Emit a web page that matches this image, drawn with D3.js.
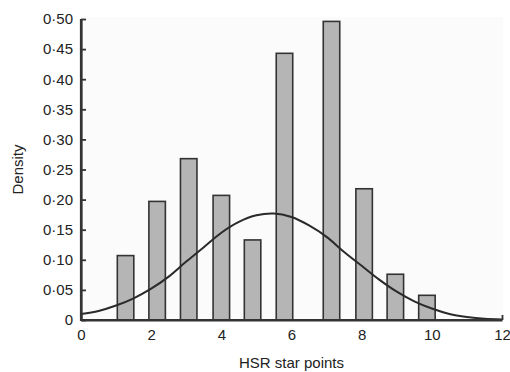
<!DOCTYPE html>
<html>
<head>
<meta charset="utf-8">
<script src="https://cdn.jsdelivr.net/npm/d3@7"></script>
<style>
  body { margin: 0; background: #fff; }
  text { font-family: "Liberation Sans", Arial, Helvetica, sans-serif; fill: #222; }
</style>
</head>
<body>
<div id="chart"></div>
<script>
const WIDTH = 510;
const HEIGHT = 372;

// bar centres (star points) and densities
const barX = [1.27, 2.17, 3.07, 4.0, 4.89, 5.8, 7.14, 8.07, 8.96, 9.86];
const barDensity = [0.107, 0.197, 0.268, 0.207, 0.133, 0.443, 0.496, 0.218, 0.076, 0.041];

// fitted density curve, sampled from the figure
const curveX = [0, 0.5, 1, 1.5, 2, 2.5, 3, 3.5, 4, 4.5, 5, 5.5, 6, 6.5, 7, 7.5, 8, 8.5, 9, 9.5, 10, 10.5, 11, 11.5, 12];
const curveY = [0.010, 0.015, 0.024, 0.036, 0.052, 0.072, 0.097, 0.121, 0.145, 0.163, 0.174, 0.177, 0.171, 0.157, 0.138, 0.113, 0.090, 0.067, 0.047, 0.031, 0.019, 0.010, 0.005, 0.002, 0.001];

const xTicks = [0, 2, 4, 6, 8, 10, 12];
const yTicks = [0, 0.05, 0.10, 0.15, 0.20, 0.25, 0.30, 0.35, 0.40, 0.45, 0.50];

const LEFT = 81, RIGHT = 502, TOP = 19, BOTTOM = 320;
const BAR_W = 0.47;

const svg = d3.select("#chart").append("svg")
    .attr("width", WIDTH)
    .attr("height", HEIGHT);

const x = d3.scaleLinear().domain([0, 12]).range([LEFT, RIGHT]);
const y = d3.scaleLinear().domain([0, 0.5]).range([BOTTOM, TOP]);

// faint plot background
svg.append("rect")
    .attr("x", LEFT)
    .attr("y", TOP - 2)
    .attr("width", RIGHT - LEFT + 1)
    .attr("height", BOTTOM - TOP + 2)
    .attr("fill", "#fbfbfb");

const yFmt = d => d === 0 ? "0" : d3.format(".2f")(d).replace(".", "\u00b7");

// X axis (ticks point inward, hidden behind bars)
const xAxis = svg.append("g")
    .attr("transform", "translate(0," + BOTTOM + ")")
    .call(d3.axisBottom(x).tickValues(xTicks).tickSize(-5).tickSizeOuter(0).tickPadding(9));

// Y axis
const yAxis = svg.append("g")
    .attr("transform", "translate(" + LEFT + ",0)")
    .call(d3.axisLeft(y).tickValues(yTicks).tickFormat(yFmt).tickSize(-5).tickSizeOuter(0).tickPadding(8));

[xAxis, yAxis].forEach(g => {
  g.selectAll("text").style("font-size", "15px").attr("fill", "#222")
   .style("font-family", "'Liberation Sans', Arial, sans-serif");
  g.selectAll("line").attr("stroke", "#333").attr("stroke-width", 1.8);
  g.select(".domain").attr("stroke", "#333").attr("stroke-width", 2.2);
});

// bars
const bw = x(BAR_W) - x(0);
svg.append("g")
  .selectAll("rect")
  .data(barX.map((v, i) => ({ x: v, d: barDensity[i] })))
  .join("rect")
    .attr("x", d => x(d.x) - bw / 2)
    .attr("y", d => y(d.d))
    .attr("width", bw)
    .attr("height", d => y(0) - y(d.d))
    .attr("fill", "#b5b5b5")
    .attr("stroke", "#333")
    .attr("stroke-width", 1.6);

// fitted curve
const line = d3.line()
    .x(d => x(d[0]))
    .y(d => y(d[1]))
    .curve(d3.curveCatmullRom);

svg.append("path")
    .datum(curveX.map((v, i) => [v, curveY[i]]))
    .attr("d", line)
    .attr("fill", "none")
    .attr("stroke", "#2a2a2a")
    .attr("stroke-width", 2);

// redraw axis lines on top
svg.append("line")
    .attr("x1", LEFT).attr("x2", RIGHT)
    .attr("y1", BOTTOM).attr("y2", BOTTOM)
    .attr("stroke", "#333").attr("stroke-width", 2.2);
svg.append("line")
    .attr("x1", LEFT).attr("x2", LEFT)
    .attr("y1", TOP).attr("y2", BOTTOM + 1)
    .attr("stroke", "#333").attr("stroke-width", 2.2);

// axis titles
svg.append("text")
    .attr("x", (LEFT + RIGHT) / 2)
    .attr("y", 368)
    .attr("text-anchor", "middle")
    .style("font-size", "15px")
    .text("HSR star points");

svg.append("text")
    .attr("transform", "translate(23," + (TOP + BOTTOM) / 2 + ") rotate(-90)")
    .attr("text-anchor", "middle")
    .style("font-size", "15px")
    .text("Density");
</script>
</body>
</html>
